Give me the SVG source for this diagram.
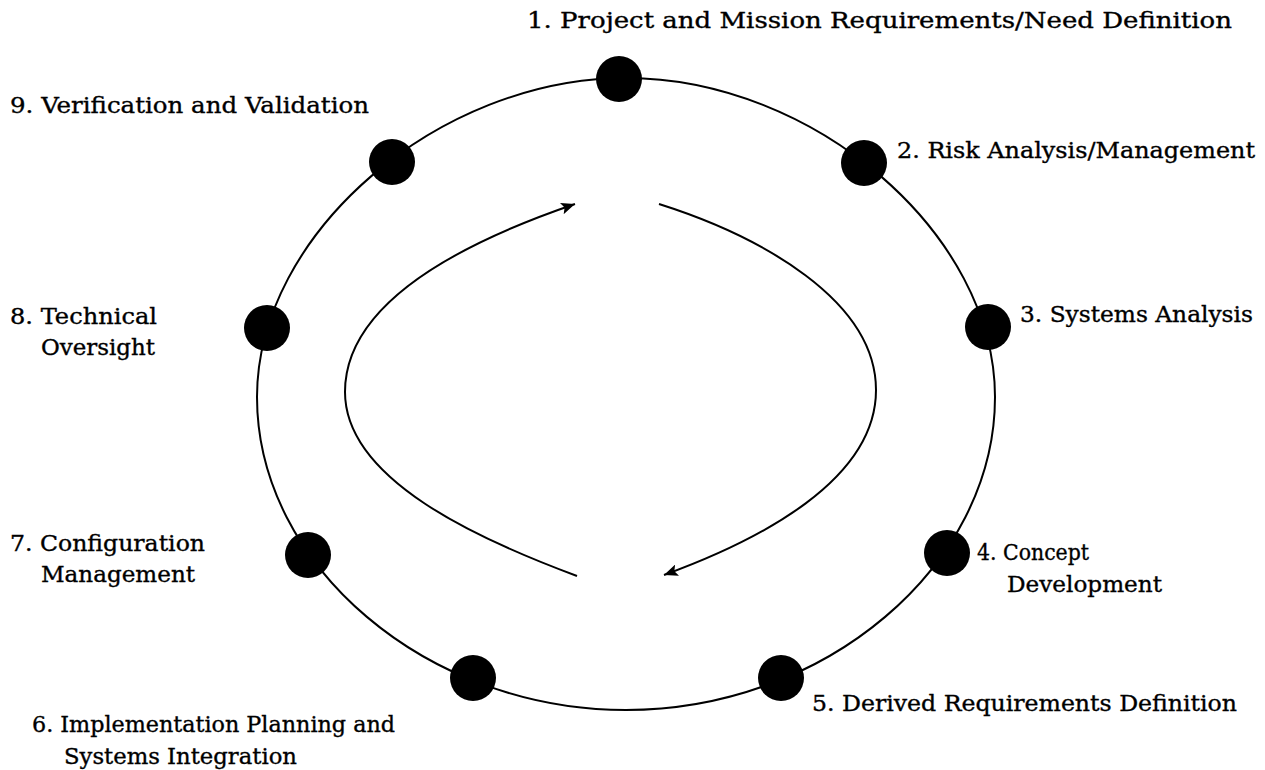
<svg xmlns="http://www.w3.org/2000/svg" width="1265" height="770" viewBox="0 0 1265 770">
<style>
.lbl{font-family:"DejaVu Serif","Liberation Serif",serif;font-size:22px;fill:#000;stroke:#000;stroke-width:0.35}
.ring{fill:none;stroke:#000;stroke-width:2}
.flow{fill:none;stroke:#000;stroke-width:2}
.dot{fill:#000}
</style>
<defs>
<marker id="ah" markerUnits="userSpaceOnUse" markerWidth="16" markerHeight="12" refX="14" refY="6" orient="auto">
<path d="M0,0 L14,6 L0,12 L3,6 Z" fill="#000"/>
</marker>
</defs>
<rect width="1265" height="770" fill="#fff"/>
<g id="connectors">
<path id="ring" class="ring" d="M626,78 C814,78 995,234 995,397 C995,566 825,710 626,710 C427,710 257,566 257,397 C257,234 438,78 626,78 Z"/>
<path id="flow-left" class="flow" marker-end="url(#ah)" d="M577,576 C480,540 345,480 345,392 C345,300 470,240 575,204"/>
<path id="flow-right" class="flow" marker-end="url(#ah)" d="M659,204 C760,236 876,300 876,390 C876,480 760,540 664,575"/>
</g>
<g id="n1"><circle class="dot" cx="619" cy="79" r="23"/><text class="lbl" x="527" y="28" textLength="705" lengthAdjust="spacingAndGlyphs">1. Project and Mission Requirements/Need Definition</text></g>
<g id="n2"><circle class="dot" cx="864" cy="163" r="23"/><text class="lbl" x="897" y="158" textLength="358" lengthAdjust="spacingAndGlyphs">2. Risk Analysis/Management</text></g>
<g id="n3"><circle class="dot" cx="988" cy="327" r="23"/><text class="lbl" x="1020" y="322" textLength="233" lengthAdjust="spacingAndGlyphs">3. Systems Analysis</text></g>
<g id="n4"><circle class="dot" cx="947" cy="553" r="23"/><text class="lbl" x="977" y="560" textLength="112" lengthAdjust="spacingAndGlyphs">4. Concept</text><text class="lbl" x="1007" y="592" textLength="155" lengthAdjust="spacingAndGlyphs">Development</text></g>
<g id="n5"><circle class="dot" cx="781" cy="678" r="23"/><text class="lbl" x="812" y="711" textLength="425" lengthAdjust="spacingAndGlyphs">5. Derived Requirements Definition</text></g>
<g id="n6"><circle class="dot" cx="473" cy="678" r="23"/><text class="lbl" x="32" y="732" textLength="363" lengthAdjust="spacingAndGlyphs">6. Implementation Planning and</text><text class="lbl" x="64" y="764" textLength="233" lengthAdjust="spacingAndGlyphs">Systems Integration</text></g>
<g id="n7"><circle class="dot" cx="308" cy="555" r="23"/><text class="lbl" x="10" y="551" textLength="195" lengthAdjust="spacingAndGlyphs">7. Configuration</text><text class="lbl" x="41" y="582" textLength="154" lengthAdjust="spacingAndGlyphs">Management</text></g>
<g id="n8"><circle class="dot" cx="267" cy="328" r="23"/><text class="lbl" x="10" y="324" textLength="147" lengthAdjust="spacingAndGlyphs">8. Technical</text><text class="lbl" x="41" y="355" textLength="114" lengthAdjust="spacingAndGlyphs">Oversight</text></g>
<g id="n9"><circle class="dot" cx="392" cy="162" r="23"/><text class="lbl" x="10" y="113" textLength="359" lengthAdjust="spacingAndGlyphs">9. Verification and Validation</text></g>
</svg>
